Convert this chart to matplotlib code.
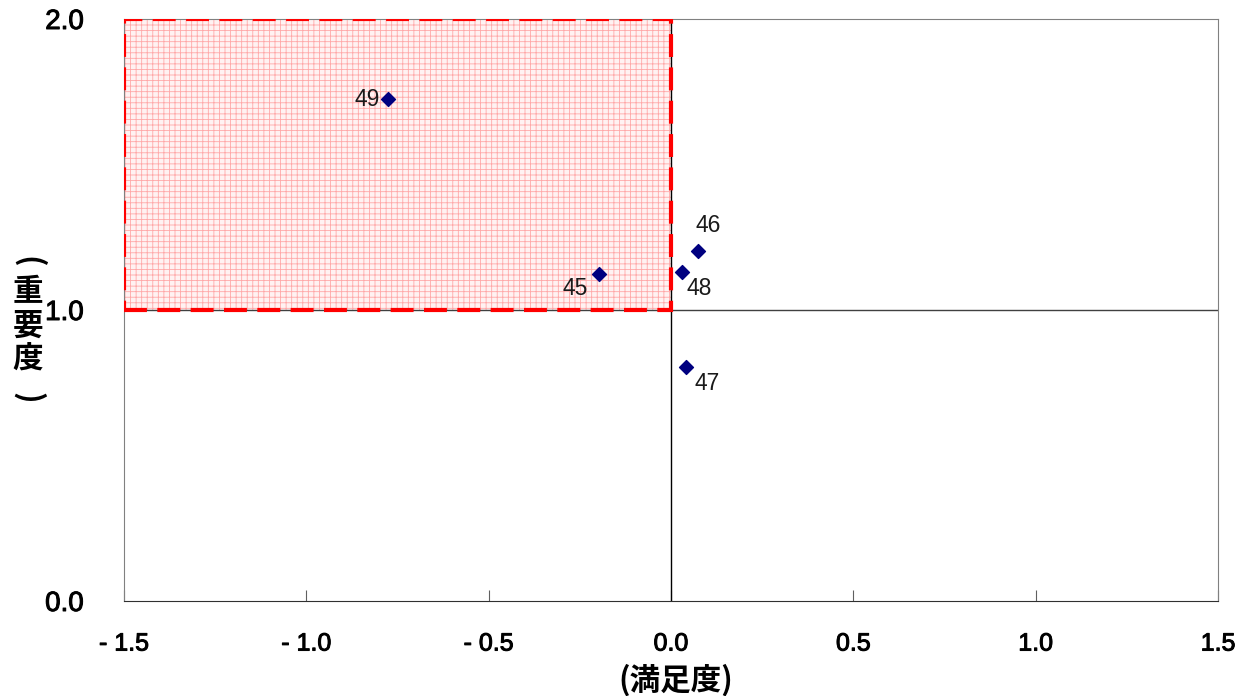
import numpy as np
import matplotlib.pyplot as plt
import matplotlib.patheffects as pe
from matplotlib.patches import Rectangle

# item numbers and their (satisfaction, importance) scores
items = ['45', '46', '47', '48', '49']
manzoku = [-0.197, 0.074, 0.041, 0.030, -0.776]
juyodo = [1.124, 1.203, 0.804, 1.131, 1.725]

# label offsets in pixels (dx, dy) and alignment for each item label
lab_off = {'45': (-24, -15, 'center'), '46': (10, 25, 'center'),
           '47': (21, -16, 'center'), '48': (17, -17, 'center'),
           '49': (-8, 0, 'right')}

xticks = [-1.5, -1.0, -0.5, 0.0, 0.5, 1.0, 1.5]
xlabels = ['- 1.5', '- 1.0', '- 0.5', '0.0', '0.5', '1.0', '1.5']
yticks = [0.0, 1.0, 2.0]
ylabels = ['0.0', '1.0', '2.0']

plt.rcParams['font.family'] = ['Liberation Sans', 'Noto Sans CJK JP', 'DejaVu Sans']
plt.rcParams['hatch.linewidth'] = 0.6

fig = plt.figure(figsize=(12.36, 6.96), dpi=100)
ax = fig.add_axes([124/1236, 95/696, 1094/1236, 582/696])
ax.set_xlim(-1.5, 1.5)
ax.set_ylim(0, 2)

# shaded quadrant (low satisfaction, high importance)
ax.add_patch(Rectangle((-1.5, 1.0), 1.5, 1.0, facecolor='#fff2f2', hatch='+++',
                       edgecolor='#ffa8a8', linewidth=0, zorder=1))
ax.add_patch(Rectangle((-1.5, 1.0), 1.5, 1.0, fill=False, edgecolor='red',
                       linewidth=3, linestyle=(0, (5.5, 2.5)), zorder=4))

# quadrant lines
ax.axvline(0, color='black', lw=1, zorder=2)
ax.axhline(1, color='#404040', lw=1, zorder=2)

ax.scatter(manzoku, juyodo, marker='D', s=50, color='#000080', zorder=5)
for k in range(len(items)):
    dx, dy, ha = lab_off[items[k]]
    ax.annotate(items[k], (manzoku[k], juyodo[k]), xytext=(dx*0.72, dy*0.72),
                textcoords='offset points', ha=ha, va='center', fontsize=16.5,
                color='#1a1a1a', zorder=6)

for s in ax.spines.values():
    s.set_color('#808080')
ax.spines['bottom'].set_color('#303030')

ax.set_xticks(xticks)
ax.set_xticklabels(xlabels, fontsize=18)
ax.set_yticks(yticks)
ax.set_yticklabels(ylabels, fontsize=20)
# tick labels a bit heavier than regular
for t in ax.get_xticklabels() + ax.get_yticklabels():
    t.set_path_effects([pe.withStroke(linewidth=0.7, foreground='black')])
ax.tick_params(axis='x', direction='in', length=8, color='#606060', pad=22)
ax.tick_params(axis='y', length=0, pad=29)

# axis titles
fig.text(676/1236, 1 - 680/696, '(満足度)', ha='center', va='center', fontsize=22,
         fontweight='bold', family=['Noto Sans CJK JP', 'DejaVu Sans'])
ylab = [('(', 262, -90), ('重', 292, 0), ('要', 326, 0), ('度', 360, 0), (')', 398, -90)]
for ch, yp, rot in ylab:
    fig.text(28/1236, 1 - yp/696, ch, ha='center', va='center', fontsize=22,
             fontweight='bold', rotation=rot, family=['Noto Sans CJK JP', 'DejaVu Sans'])

fig.savefig('out.png', dpi=100)
